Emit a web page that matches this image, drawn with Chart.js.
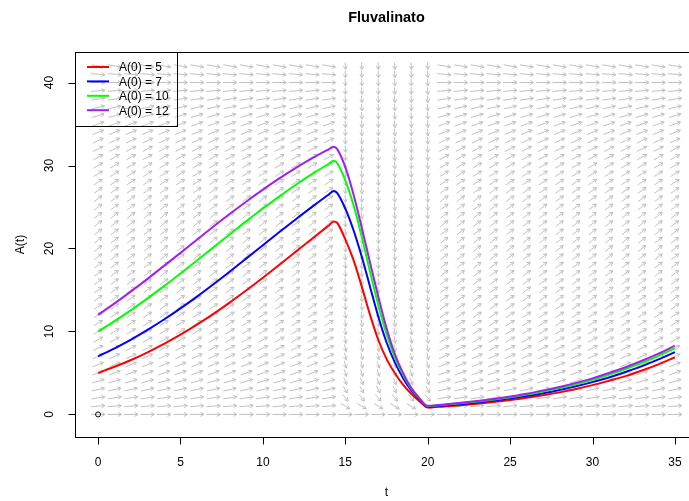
<!DOCTYPE html>
<html>
<head>
<meta charset="utf-8">
<script src="https://cdn.jsdelivr.net/npm/chart.js@4.4.1/dist/chart.umd.min.js"></script>
<style>
  html, body { margin: 0; padding: 0; background: #fff; overflow: hidden; }
  #wrap { width: 720px; height: 501px; }
</style>
</head>
<body>
<div id="wrap"><canvas id="fluvChart" width="720" height="501"></canvas></div>
<script>
// time points of the solved curves
var tVals = [0, 1, 2, 3, 4, 5, 6, 7, 8, 9, 10, 11, 12, 13, 14, 14.3, 14.5,
    15, 15.5, 16, 16.5, 17, 17.5, 18, 18.5, 19, 19.5, 20,
    21, 22, 23, 24, 25, 26, 27, 28, 29, 30, 31, 32, 33, 34, 35];

var a5 = [5, 5.74, 6.56, 7.49, 8.50, 9.61, 10.82, 12.12, 13.51, 14.96, 16.48, 18.03, 19.62, 21.21, 22.78, 23.25, 23.1,
    21.1, 18.6, 15.4, 12.0, 9.0, 6.7, 5.0, 3.6, 2.5, 1.6, 0.83,
    0.96, 1.12, 1.30, 1.50, 1.73, 2.00, 2.31, 2.66, 3.07, 3.53, 4.06, 4.62, 5.30, 6.04, 6.88];
var a7 = [7, 7.97, 9.03, 10.19, 11.44, 12.78, 14.20, 15.69, 17.23, 18.81, 20.40, 21.98, 23.53, 25.05, 26.51, 26.94, 26.7,
    24.8, 22.2, 19.0, 15.4, 11.8, 8.7, 6.3, 4.4, 2.9, 1.8, 0.92,
    1.07, 1.24, 1.44, 1.67, 1.92, 2.22, 2.56, 2.95, 3.39, 3.89, 4.45, 5.11, 5.82, 6.63, 7.50];
var a10 = [10, 11.24, 12.57, 13.98, 15.46, 16.99, 18.55, 20.14, 21.72, 23.30, 24.81, 26.28, 27.68, 28.99, 30.21, 30.56, 30.3,
    28.2, 25.2, 21.4, 17.2, 13.2, 9.7, 6.9, 4.8, 3.1, 1.9, 1.0,
    1.16, 1.34, 1.55, 1.80, 2.07, 2.39, 2.76, 3.17, 3.64, 4.18, 4.78, 5.47, 6.22, 7.05, 8.00];
var a12 = [12, 13.38, 14.83, 16.34, 17.90, 19.47, 21.06, 22.64, 24.18, 25.67, 27.10, 28.45, 29.72, 30.88, 31.95, 32.26, 32.0,
    29.8, 26.5, 22.5, 18.3, 14.2, 10.4, 7.3, 5.0, 3.2, 1.95, 1.04,
    1.21, 1.40, 1.62, 1.87, 2.16, 2.50, 2.87, 3.30, 3.80, 4.35, 4.99, 5.69, 6.47, 7.33, 8.30];

var seriesLabels = ['A(0) = 5', 'A(0) = 7', 'A(0) = 10', 'A(0) = 12'];
var seriesColors = ['#ff0000', '#0000ff', '#00ff00', '#a020f0'];

var originPoint = [{ x: 0, y: 0 }];

var xTicks = [0, 5, 10, 15, 20, 25, 30, 35];
var yTicks = [0, 10, 20, 30, 40];

// direction field grid and slopes dA/dt read per row
var fieldT = [0, 1, 2, 3, 4, 5, 6, 7, 8, 9, 10, 11, 12, 13, 14, 15, 16, 17,
    18, 19, 20, 21, 22, 23, 24, 25, 26, 27, 28, 29, 30, 31, 32, 33, 34, 35];
var fieldA = [0, 1, 2, 3, 4, 5, 6, 7, 8, 9, 10, 11, 12, 13, 14, 15, 16, 17, 18, 19, 20,
    21, 22, 23, 24, 25, 26, 27, 28, 29, 30, 31, 32, 33, 34, 35, 36, 37, 38, 39, 40, 41, 42];
var decayCols = [15, 16, 17, 18, 19, 20];
var growthSlope = [0, 0.16, 0.30, 0.44, 0.57, 0.70, 0.81, 0.92, 1.02, 1.11, 1.19, 1.27, 1.34, 1.40,
    1.45, 1.49, 1.53, 1.55, 1.57, 1.59, 1.59, 1.59, 1.57, 1.55, 1.53, 1.49, 1.45, 1.40, 1.34,
    1.27, 1.19, 1.11, 1.02, 0.92, 0.81, 0.70, 0.57, 0.44, 0.30, 0.16, 0, -0.16, -0.33];
var decaySlope = [0, -1.2, -2.4, -3.6, -4.8, -6, -7.2, -8.4, -9.6, -10.8, -12, -13.2, -14.4, -15.6,
    -16.8, -18, -19.2, -20.4, -21.6, -22.8, -24, -25.2, -26.4, -27.6, -28.8, -30, -31.2, -32.4,
    -33.6, -34.8, -36, -37.2, -38.4, -39.6, -40.8, -42, -43.2, -44.4, -45.6, -46.8, -48, -49.2, -50.4];

(function () {
    'use strict';

    var FONT = '"Liberation Sans", Arial, sans-serif';

    function pts(vals) {
        return tVals.map(function (t, i) { return { x: t, y: vals[i] }; });
    }

    var allSeries = [a5, a7, a10, a12];
    var datasets = allSeries.map(function (vals, i) {
        return {
            label: seriesLabels[i],
            data: pts(vals),
            borderColor: seriesColors[i],
            backgroundColor: seriesColors[i],
            borderWidth: 2,
            pointRadius: 0,
            fill: false,
            cubicInterpolationMode: 'monotone',
            order: 4 - i
        };
    });
    datasets.push({
        label: 'origin',
        data: originPoint,
        showLine: false,
        pointRadius: 2.5,
        pointBorderWidth: 1,
        pointBorderColor: '#000',
        pointBackgroundColor: 'rgba(0,0,0,0)',
        order: 0
    });

    function arrow(ctx, x0, y0, x1, y1) {
        var ang = Math.atan2(y1 - y0, x1 - x0);
        var h = 4;
        ctx.beginPath();
        ctx.moveTo(x0, y0);
        ctx.lineTo(x1, y1);
        ctx.moveTo(x1 - h * Math.cos(ang - Math.PI / 6), y1 - h * Math.sin(ang - Math.PI / 6));
        ctx.lineTo(x1, y1);
        ctx.lineTo(x1 - h * Math.cos(ang + Math.PI / 6), y1 - h * Math.sin(ang + Math.PI / 6));
        ctx.stroke();
    }

    var fieldPlugin = {
        id: 'flowField',
        beforeDatasetsDraw: function (chart) {
            var ctx = chart.ctx, xs = chart.scales.x, ys = chart.scales.y;
            var L = 0.85;
            ctx.save();
            ctx.strokeStyle = '#c0c0c0';
            ctx.lineWidth = 1;
            fieldT.forEach(function (t) {
                var decay = decayCols.indexOf(t) >= 0;
                fieldA.forEach(function (a, j) {
                    var s = decay ? decaySlope[j] : growthSlope[j];
                    var n = Math.sqrt(1 + s * s);
                    var dx = L / n / 2, dy = L * s / n / 2;
                    arrow(ctx,
                        xs.getPixelForValue(t - dx), ys.getPixelForValue(a - dy),
                        xs.getPixelForValue(t + dx), ys.getPixelForValue(a + dy));
                });
            });
            ctx.restore();
        }
    };

    var framePlugin = {
        id: 'rFrame',
        afterDraw: function (chart) {
            var ctx = chart.ctx, area = chart.chartArea;
            var xs = chart.scales.x, ys = chart.scales.y;
            ctx.save();
            ctx.strokeStyle = '#000';
            ctx.lineWidth = 1;
            ctx.strokeRect(area.left + 0.5, area.top + 0.5, area.right - area.left, area.bottom - area.top);

            ctx.fillStyle = '#000';
            ctx.font = '12px ' + FONT;
            ctx.textAlign = 'center';
            ctx.textBaseline = 'middle';

            // x axis
            var y0 = area.bottom + 0.5;
            ctx.beginPath();
            ctx.moveTo(xs.getPixelForValue(xTicks[0]), y0);
            ctx.lineTo(xs.getPixelForValue(xTicks[xTicks.length - 1]), y0);
            xTicks.forEach(function (v) {
                var px = Math.round(xs.getPixelForValue(v)) + 0.5;
                ctx.moveTo(px, y0);
                ctx.lineTo(px, y0 + 7);
            });
            ctx.stroke();
            xTicks.forEach(function (v) {
                ctx.fillText(String(v), xs.getPixelForValue(v), 463);
            });

            // y axis
            var x0 = area.left + 0.5;
            ctx.beginPath();
            ctx.moveTo(x0, ys.getPixelForValue(yTicks[0]));
            ctx.lineTo(x0, ys.getPixelForValue(yTicks[yTicks.length - 1]));
            yTicks.forEach(function (v) {
                var py = Math.round(ys.getPixelForValue(v)) + 0.5;
                ctx.moveTo(x0, py);
                ctx.lineTo(x0 - 7, py);
            });
            ctx.stroke();
            yTicks.forEach(function (v) {
                ctx.save();
                ctx.translate(50, ys.getPixelForValue(v));
                ctx.rotate(-Math.PI / 2);
                ctx.fillText(String(v), 0, 0);
                ctx.restore();
            });

            // axis titles
            ctx.fillText('t', (area.left + area.right) / 2, 493);
            ctx.save();
            ctx.translate(21, (area.top + area.bottom) / 2);
            ctx.rotate(-Math.PI / 2);
            ctx.fillText('A(t)', 0, 0);
            ctx.restore();

            // main title
            ctx.font = 'bold 14.5px ' + FONT;
            ctx.fillText('Fluvalinato', (area.left + area.right) / 2, 18);

            // legend, top left
            ctx.strokeRect(area.left + 0.5, area.top + 0.5, 102, 74);
            ctx.font = '12px ' + FONT;
            ctx.textAlign = 'left';
            seriesLabels.forEach(function (lab, i) {
                var ly = area.top + 15 + i * 14.4;
                ctx.strokeStyle = seriesColors[i];
                ctx.lineWidth = 2;
                ctx.beginPath();
                ctx.moveTo(87, ly);
                ctx.lineTo(109, ly);
                ctx.stroke();
                ctx.fillText(lab, 119, ly + 1);
            });
            ctx.restore();
        }
    };

    new Chart(document.getElementById('fluvChart'), {
        type: 'line',
        data: { datasets: datasets },
        options: {
            responsive: false,
            animation: false,
            devicePixelRatio: 1,
            layout: { padding: { left: 75, right: 22, top: 52, bottom: 64 } },
            plugins: {
                legend: { display: false },
                title: { display: false },
                tooltip: { enabled: false }
            },
            scales: {
                x: { type: 'linear', min: -1.4, max: 36.4, display: false },
                y: { type: 'linear', min: -2.72, max: 43.68, display: false }
            }
        },
        plugins: [fieldPlugin, framePlugin]
    });
})();
</script>
</body>
</html>
